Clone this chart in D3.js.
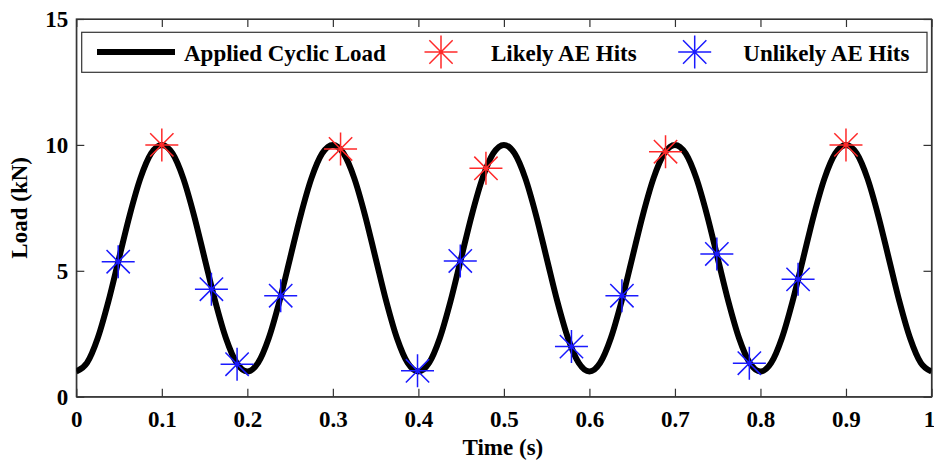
<!DOCTYPE html>
<html>
<head>
<meta charset="utf-8">
<script src="https://cdn.jsdelivr.net/npm/d3@7"></script>
<style>
  html, body { margin: 0; padding: 0; background: #fff; }
  svg { display: block; }
  text { font-family: "Liberation Serif", "Times New Roman", serif; font-weight: bold; fill: #000; }
</style>
</head>
<body>
<svg id="chart" width="934" height="461"></svg>
<script>
// Applied cyclic load (kN) sampled over time (s)
const loadTime = [
  0.0000, 0.0125, 0.0250, 0.0375, 0.0500, 0.0625, 0.0750, 0.0875,
  0.1000, 0.1125, 0.1250, 0.1375, 0.1500, 0.1625, 0.1750, 0.1875,
  0.2000, 0.2125, 0.2250, 0.2375, 0.2500, 0.2625, 0.2750, 0.2875,
  0.3000, 0.3125, 0.3250, 0.3375, 0.3500, 0.3625, 0.3750, 0.3875,
  0.4000, 0.4125, 0.4250, 0.4375, 0.4500, 0.4625, 0.4750, 0.4875,
  0.5000, 0.5125, 0.5250, 0.5375, 0.5500, 0.5625, 0.5750, 0.5875,
  0.6000, 0.6125, 0.6250, 0.6375, 0.6500, 0.6625, 0.6750, 0.6875,
  0.7000, 0.7125, 0.7250, 0.7375, 0.7500, 0.7625, 0.7750, 0.7875,
  0.8000, 0.8125, 0.8250, 0.8375, 0.8500, 0.8625, 0.8750, 0.8875,
  0.9000, 0.9125, 0.9250, 0.9375, 0.9500, 0.9625, 0.9750, 0.9875,
  1.0000
];
const loadValue = [
  1.00, 1.34, 2.32, 3.78, 5.50, 7.22, 8.68, 9.66,
  10.00, 9.66, 8.68, 7.22, 5.50, 3.78, 2.32, 1.34,
  1.00, 1.34, 2.32, 3.78, 5.50, 7.22, 8.68, 9.66,
  10.00, 9.66, 8.68, 7.22, 5.50, 3.78, 2.32, 1.34,
  1.00, 1.34, 2.32, 3.78, 5.50, 7.22, 8.68, 9.66,
  10.00, 9.66, 8.68, 7.22, 5.50, 3.78, 2.32, 1.34,
  1.00, 1.34, 2.32, 3.78, 5.50, 7.22, 8.68, 9.66,
  10.00, 9.66, 8.68, 7.22, 5.50, 3.78, 2.32, 1.34,
  1.00, 1.34, 2.32, 3.78, 5.50, 7.22, 8.68, 9.66,
  10.00, 9.66, 8.68, 7.22, 5.50, 3.78, 2.32, 1.34,
  1.00
];

// Acoustic emission hits
const likelyTime = [0.100, 0.309, 0.479, 0.689, 0.900];
const likelyLoad = [10.00, 9.84, 9.07, 9.73, 10.00];
const unlikelyTime = [0.049, 0.158, 0.188, 0.239, 0.399, 0.449, 0.579, 0.638, 0.749, 0.787, 0.844];
const unlikelyLoad = [5.36, 4.27, 1.29, 4.01, 1.03, 5.39, 1.99, 4.01, 5.67, 1.33, 4.66];

const xTicks = [0, 0.1, 0.2, 0.3, 0.4, 0.5, 0.6, 0.7, 0.8, 0.9, 1];
const yTicks = [0, 5, 10, 15];
const legendLabels = ["Applied Cyclic Load", "Likely AE Hits", "Unlikely AE Hits"];

const svg = d3.select("#chart");
const plot = { left: 76.3, right: 931.5, top: 19, bottom: 396.7 };
const fontSize = 23;

const x = d3.scaleLinear().domain([0, 1]).range([plot.left, plot.right]);
const y = d3.scaleLinear().domain([0, 15]).range([plot.bottom, plot.top]);

const fmtX = d => (d === 0 || d === 1) ? String(d) : d.toFixed(1);
const tickLen = 8;
const axisColor = "#333";

// Axes with inward ticks on all four sides
const bottomAxis = d3.axisBottom(x).tickValues(xTicks).tickFormat(fmtX).tickSizeInner(-tickLen).tickSizeOuter(0).tickPadding(14);
const topAxis = d3.axisTop(x).tickValues(xTicks).tickFormat("").tickSizeInner(-tickLen).tickSizeOuter(0);
const leftAxis = d3.axisLeft(y).tickValues(yTicks).tickSizeInner(-tickLen).tickSizeOuter(0).tickPadding(8);
const rightAxis = d3.axisRight(y).tickValues(yTicks).tickFormat("").tickSizeInner(-tickLen).tickSizeOuter(0);

function styleAxis(g) {
  g.selectAll("path, line").attr("stroke", axisColor).attr("stroke-width", 1.2);
  g.selectAll("text").attr("font-size", fontSize).attr("font-family", "Liberation Serif, serif").attr("font-weight", "bold").attr("fill", "#000");
}

const xAxisG = svg.append("g").attr("transform", `translate(0,${plot.bottom})`).call(bottomAxis).call(styleAxis);
// keep the last tick label inside the page edge
xAxisG.selectAll(".tick text").filter(d => d === 1).attr("dx", -2.5);
svg.append("g").attr("transform", `translate(0,${plot.top})`).call(topAxis).call(styleAxis);
svg.append("g").attr("transform", `translate(${plot.left},0)`).call(leftAxis).call(styleAxis);
svg.append("g").attr("transform", `translate(${plot.right},0)`).call(rightAxis).call(styleAxis);

// Frame
svg.append("rect")
  .attr("x", plot.left).attr("y", plot.top)
  .attr("width", plot.right - plot.left).attr("height", plot.bottom - plot.top)
  .attr("fill", "none").attr("stroke", axisColor).attr("stroke-width", 1.2);

// Axis titles
svg.append("text")
  .attr("x", (plot.left + plot.right) / 2 - 1).attr("y", 455)
  .attr("text-anchor", "middle").attr("font-size", fontSize)
  .text("Time (s)");
svg.append("text")
  .attr("transform", `translate(27,${(plot.top + plot.bottom) / 2}) rotate(-90)`)
  .attr("text-anchor", "middle").attr("font-size", fontSize)
  .text("Load (kN)");

// Clip to plotting area
svg.append("clipPath").attr("id", "clip")
  .append("rect")
  .attr("x", plot.left).attr("y", plot.top)
  .attr("width", plot.right - plot.left).attr("height", plot.bottom - plot.top);

const loadData = loadTime.map((t, i) => ({ t, v: loadValue[i] }));
const line = d3.line().x(d => x(d.t)).y(d => y(d.v)).curve(d3.curveMonotoneX);

svg.append("path")
  .datum(loadData)
  .attr("clip-path", "url(#clip)")
  .attr("d", line)
  .attr("fill", "none")
  .attr("stroke", "#000")
  .attr("stroke-width", 6)
  .attr("stroke-linejoin", "round");

// Eight-armed asterisk marker
const starR = 16.5;
function starPath(r) {
  const d = r * Math.SQRT1_2;
  return `M${-r},0L${r},0M0,${-r}L0,${r}M${-d},${-d}L${d},${d}M${-d},${d}L${d},${-d}`;
}

function drawStars(times, loads, color) {
  svg.append("g")
    .selectAll("path")
    .data(times.map((t, i) => ({ t, v: loads[i] })))
    .join("path")
    .attr("transform", d => `translate(${x(d.t)},${y(d.v)})`)
    .attr("d", starPath(starR))
    .attr("fill", "none")
    .attr("stroke", color)
    .attr("stroke-width", 1.5);
}
drawStars(unlikelyTime, unlikelyLoad, "#1a1aff");
drawStars(likelyTime, likelyLoad, "#ff2a2a");

// Legend
const legend = svg.append("g");
legend.append("rect")
  .attr("x", 81.7).attr("y", 32.3).attr("width", 845.3).attr("height", 40)
  .attr("fill", "#fff").attr("stroke", axisColor).attr("stroke-width", 1.2);
const ly = 52;
const textDy = 8.5;
legend.append("line")
  .attr("x1", 97).attr("x2", 175).attr("y1", ly).attr("y2", ly)
  .attr("stroke", "#000").attr("stroke-width", 6);
legend.append("text").attr("x", 184).attr("y", ly + textDy).attr("font-size", fontSize).text(legendLabels[0]);
legend.append("path").attr("transform", `translate(441,${ly})`).attr("d", starPath(starR))
  .attr("fill", "none").attr("stroke", "#ff2a2a").attr("stroke-width", 1.5);
legend.append("text").attr("x", 491).attr("y", ly + textDy).attr("font-size", fontSize).text(legendLabels[1]);
legend.append("path").attr("transform", `translate(694.7,${ly})`).attr("d", starPath(starR))
  .attr("fill", "none").attr("stroke", "#1a1aff").attr("stroke-width", 1.5);
legend.append("text").attr("x", 743.3).attr("y", ly + textDy).attr("font-size", fontSize).text(legendLabels[2]);
</script>
</body>
</html>
